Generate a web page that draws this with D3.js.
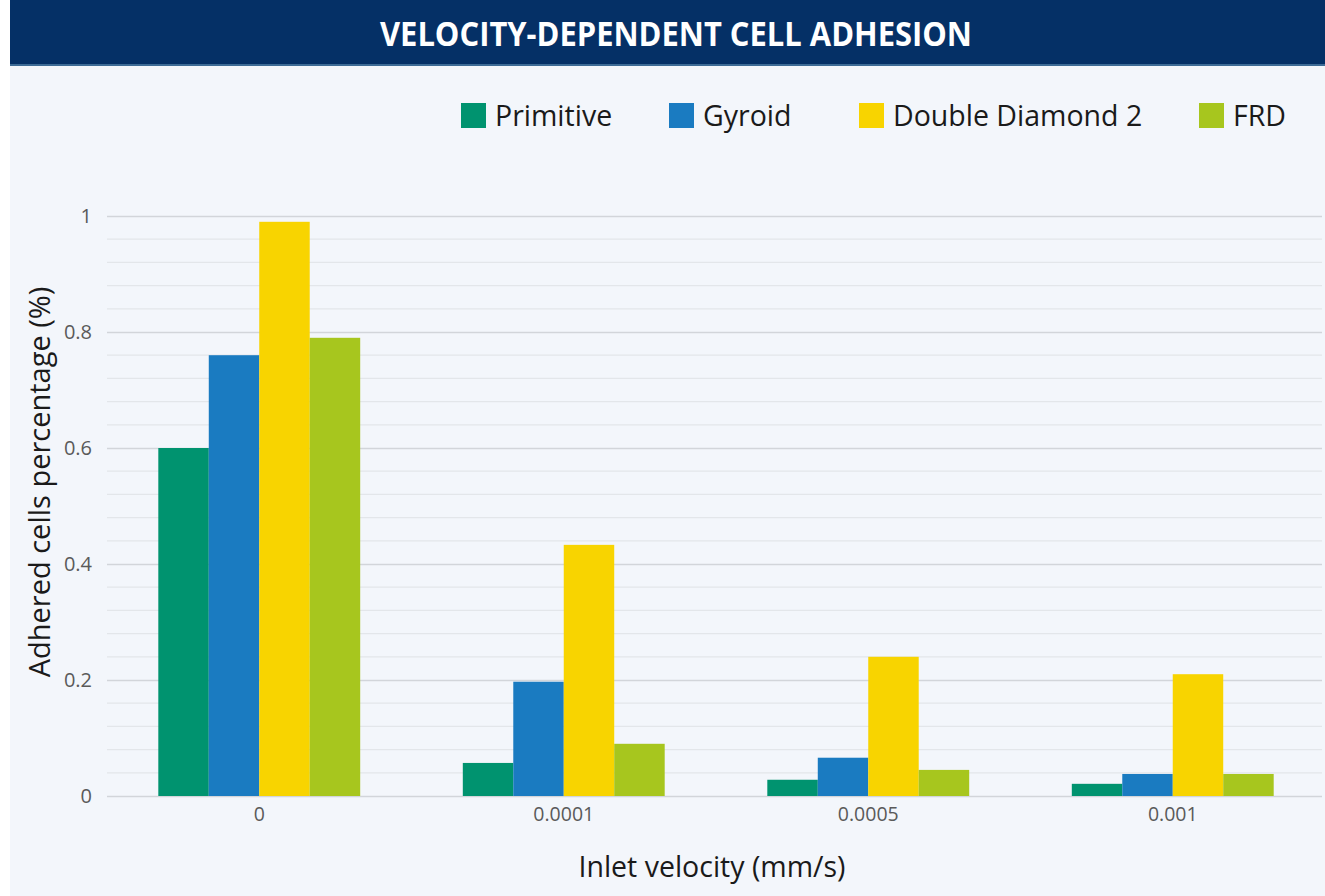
<!DOCTYPE html>
<html>
<head>
<meta charset="utf-8">
<script src="https://cdn.jsdelivr.net/npm/d3@7"></script>
<style>
  html, body { margin: 0; padding: 0; background: #ffffff; }
  svg { display: block; }
  text { font-family: "Open Sans", "Noto Sans", sans-serif; }
</style>
</head>
<body>
<svg id="chart" width="1325" height="896"></svg>
<script>
// Adhered cell fraction per inlet velocity, one series per lattice geometry
const categories = ["0", "0.0001", "0.0005", "0.001"];
const seriesNames = ["Primitive", "Gyroid", "Double Diamond 2", "FRD"];
const primitive = [0.60, 0.057, 0.028, 0.021];
const gyroid = [0.76, 0.197, 0.066, 0.038];
const doubleDiamond2 = [0.99, 0.433, 0.24, 0.21];
const frd = [0.79, 0.09, 0.045, 0.038];
const yTicks = [0, 0.2, 0.4, 0.6, 0.8, 1];

const seriesValues = [primitive, gyroid, doubleDiamond2, frd];
const colors = ["#00936f", "#1a7bc1", "#f8d400", "#a7c61e"];

const W = 1325, H = 896;
const margin = { left: 107, right: 0, top: 216, bottom: 100 };
const svg = d3.select("#chart");

// page background and title banner
svg.append("rect").attr("x", 10).attr("y", 0).attr("width", W - 10).attr("height", H).attr("fill", "#f3f6fb");
svg.append("rect").attr("x", 10).attr("y", 0).attr("width", W - 10).attr("height", 65).attr("fill", "#053066");
svg.append("rect").attr("x", 10).attr("y", 64).attr("width", W - 10).attr("height", 2).attr("fill", "#3d6b96");
svg.append("text")
  .attr("x", 676).attr("y", 46)
  .attr("text-anchor", "middle")
  .attr("fill", "#ffffff")
  .attr("font-size", 34)
  .attr("font-weight", 700)
  .attr("textLength", 592)
  .attr("lengthAdjust", "spacingAndGlyphs")
  .text("VELOCITY-DEPENDENT CELL ADHESION");

const x0 = d3.scaleBand().domain(categories).range([margin.left, W - margin.right]).paddingInner(0.337).paddingOuter(0.1685);
const x1 = d3.scaleBand().domain(seriesNames).range([0, x0.bandwidth()]);
const y = d3.scaleLinear().domain([0, 1]).range([796, 216]);

// minor gridlines every 0.04, major every 0.2
const minor = d3.range(0.04, 1.0001, 0.04).filter(v => Math.abs(v * 5 - Math.round(v * 5)) > 1e-6);
svg.append("g").selectAll("line").data(minor).join("line")
  .attr("x1", margin.left).attr("x2", 1322)
  .attr("y1", d => y(d)).attr("y2", d => y(d))
  .attr("stroke", "#e3e6ea").attr("stroke-width", 1.2);

const yAxis = svg.append("g")
  .attr("transform", `translate(${margin.left},0)`)
  .call(d3.axisLeft(y).tickValues(yTicks).tickFormat(d3.format("~g")).tickSize(-(1322 - margin.left)).tickPadding(15));
yAxis.select(".domain").remove();
yAxis.selectAll(".tick line").attr("stroke", "#d2d5da").attr("stroke-width", 1.5);
yAxis.selectAll(".tick text").attr("fill", "#5a5a5a").attr("font-size", 20);

// bars
const groups = svg.append("g").selectAll("g").data(categories).join("g")
  .attr("transform", d => `translate(${x0(d)},0)`);
groups.selectAll("rect")
  .data((c, ci) => seriesNames.map((s, si) => ({ s, si, v: seriesValues[si][ci] })))
  .join("rect")
  .attr("x", d => x1(d.s))
  .attr("width", x1.bandwidth())
  .attr("y", d => y(d.v))
  .attr("height", d => y(0) - y(d.v))
  .attr("fill", d => colors[d.si]);

// x axis labels
const xAxis = svg.append("g")
  .attr("transform", `translate(0,${y(0)})`)
  .call(d3.axisBottom(x0).tickSize(0).tickPadding(11));
xAxis.select(".domain").remove();
xAxis.selectAll(".tick text").attr("fill", "#5a5a5a").attr("font-size", 19.5);

// axis titles
svg.append("text")
  .attr("x", 712).attr("y", 877)
  .attr("text-anchor", "middle")
  .attr("fill", "#1a1a1a")
  .attr("font-size", 28.5)
  .text("Inlet velocity (mm/s)");
svg.append("text")
  .attr("transform", "translate(50,482) rotate(-90)")
  .attr("text-anchor", "middle")
  .attr("fill", "#1a1a1a")
  .attr("font-size", 29)
  .text("Adhered cells percentage (%)");

// legend
const legendX = [461, 669, 859, 1199];
const legend = svg.append("g").selectAll("g").data(seriesNames).join("g")
  .attr("transform", (d, i) => `translate(${legendX[i]},103)`);
legend.append("rect").attr("width", 25).attr("height", 25).attr("fill", (d, i) => colors[i]);
legend.append("text").attr("x", 34).attr("y", 23).attr("font-size", 28.5).attr("fill", "#1a1a1a").text(d => d);
</script>
</body>
</html>
